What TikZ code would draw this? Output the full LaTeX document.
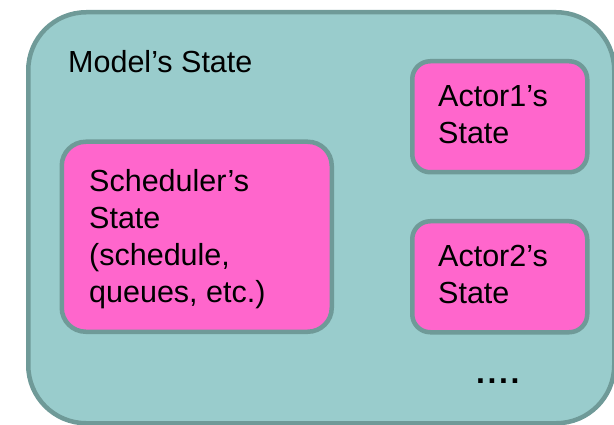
\documentclass[tikz,border=0pt]{standalone}
\usepackage{fontspec}
\setmainfont{Liberation Sans}
\definecolor{statefill}{HTML}{99CCCC}
\definecolor{stateedge}{HTML}{6F9A98}
\definecolor{partfill}{HTML}{FF66CC}
\begin{document}
\begin{tikzpicture}[x=1pt,y=-1pt,
  box/.style={draw=stateedge, line width=4.5pt, anchor=north west, inner sep=0pt},
  part/.style={box, fill=partfill},
  lbl/.style={anchor=base west, inner sep=0pt, align=left,
    font=\fontsize{30.5}{37}\selectfont}]
\useasboundingbox (0,0) rectangle (614,425);
% outer container: the model's state
\node[box, fill=statefill, rounded corners=58pt,
  minimum width=586pt, minimum height=411pt] (model) at (26,10) {};
% inner parts
\node[part, rounded corners=24pt, minimum width=270pt, minimum height=190pt] (sched) at (59.5,139.5) {};
\node[part, rounded corners=18pt, minimum width=175pt, minimum height=111pt] (actor1) at (410,59) {};
\node[part, rounded corners=18pt, minimum width=175pt, minimum height=111pt] (actor2) at (410,219) {};
% labels (multi-line labels are placed by the baseline of their last line)
\node[lbl] (modellbl) at (68,73) {Model’s State};
\node[lbl] (schedlbl) at (89,302) {Scheduler’s\\State\\(schedule,\\queues, etc.)};
\node[lbl] (actor1lbl) at (438,144) {Actor1’s\\State};
\node[lbl] (actor2lbl) at (438,304) {Actor2’s\\State};
\node[lbl, font=\fontsize{32}{37}\selectfont\bfseries\addfontfeature{LetterSpace=8}] (more) at (476,383) {....};
\end{tikzpicture}
\end{document}
